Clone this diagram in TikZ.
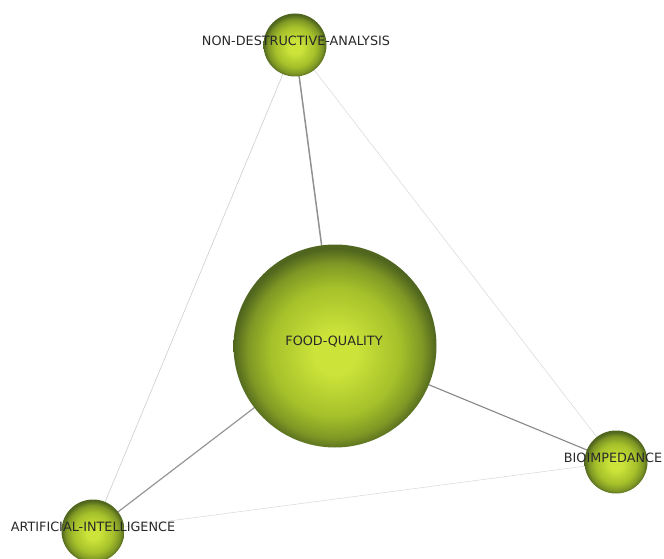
\documentclass[tikz,border=0pt]{standalone}
\usepackage{fontspec}
\setmainfont{DejaVu Sans}
\usetikzlibrary{backgrounds}
\definecolor{esfclaro}{RGB}{204,228,58}
\definecolor{esfmedio}{RGB}{165,192,42}
\definecolor{esfoscuro}{RGB}{80,102,30}
\definecolor{texto}{RGB}{40,40,40}
\pgfdeclareradialshading{esfera}{\pgfpoint{0bp}{-2bp}}{color(0bp)=(esfclaro); color(5bp)=(esfclaro); color(16bp)=(esfmedio); color(21.5bp)=(esfoscuro!45!esfmedio); color(25bp)=(esfoscuro); color(50bp)=(esfoscuro)}
\begin{document}
\begin{tikzpicture}[x=1pt,y=-1pt,
  tema/.style={circle,shading=esfera,draw=none,inner sep=0pt},
  etiqueta/.style={text=texto,font=\fontsize{12.8}{14}\selectfont,inner sep=0pt}]
  \useasboundingbox (0,0) rectangle (664,559);
  % Vértices
  \node[tema,minimum size=203pt] (fq) at (335,346) {};
  \node[tema,minimum size=63pt] (nda) at (295,45) {};
  \node[tema,minimum size=63pt] (bio) at (616,462) {};
  \node[tema,minimum size=63pt] (ai) at (93,531) {};

  % Etiquetas
  \node[etiqueta] at (334,342) {FOOD-QUALITY};
  \node[etiqueta] at (296,41) {NON-DESTRUCTIVE-ANALYSIS};
  \node[etiqueta] at (613,458) {BIOIMPEDANCE};
  \node[etiqueta] at (93,527) {ARTIFICIAL-INTELLIGENCE};

  % Aristas
  \begin{scope}[on background layer]
    \foreach \from/\to/\w/\c in {nda/fq/1.5/145, fq/bio/1.1/135, fq/ai/1.2/150,
                                 nda/ai/0.6/205, nda/bio/0.5/215, ai/bio/0.5/215}
      \draw[line width=\w pt,color={rgb,255:red,\c;green,\c;blue,\c}] (\from.center) -- (\to.center);
  \end{scope}
\end{tikzpicture}
\end{document}
